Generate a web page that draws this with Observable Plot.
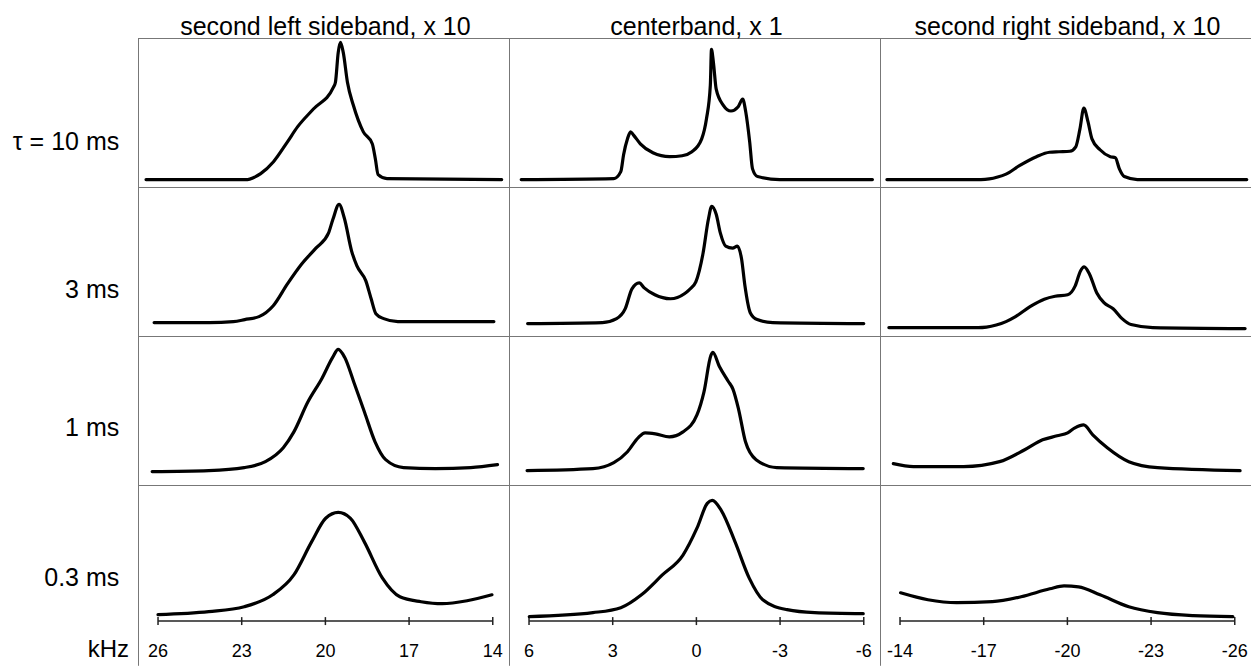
<!DOCTYPE html>
<html><head><meta charset="utf-8">
<script src="https://cdn.jsdelivr.net/npm/d3@7"></script>
<script src="https://cdn.jsdelivr.net/npm/@observablehq/plot@0.6"></script>
<style>html,body{margin:0;padding:0;background:#fff;}</style>
</head><body><div id="chart"></div>
<script>
// ---- categories / labels ----
const columns = ["left", "center", "right"];
const columnTitles = ["second left sideband, x 10", "centerband, x 1", "second right sideband, x 10"];
const columnCenters = [20, 0, -20];           // kHz at the middle of each column
const rows = ["10", "3", "1", "0.3"];
const rowLabels = ["τ = 10 ms", "3 ms", "1 ms", "0.3 ms"];
const rowLabelLevel = [46, 47, 58, 56.5];
const tickOffsets = [6, 3, 0, -3, -6];
const tickLabels = [[26, 23, 20, 17, 14], [6, 3, 0, -3, -6], [-14, -17, -20, -23, -26]];
const unitLabel = "kHz";

// ---- spectra: [frequency kHz, intensity a.u.] ----
const left10 = [[26.43,8],[22.79,8],[22.57,10],[22.32,14],[21.86,26],[21.36,46],[21.0,61],[20.43,79],[19.71,101],[19.64,106],[19.54,136],[19.46,146],[19.36,136],[19.21,106],[19.0,83],[18.64,56],[18.32,44],[18.21,29],[18.11,13],[17.79,9],[13.68,8]];
const center10 = [[6.28,8],[2.96,9],[2.71,16],[2.61,33],[2.47,49],[2.36,56],[2.26,53],[2.01,44],[1.56,35],[0.96,31],[0.51,32],[0.16,36],[-0.19,49],[-0.36,69],[-0.50,103],[-0.54,139],[-0.61,126],[-0.71,99],[-0.96,83],[-1.24,77],[-1.49,81],[-1.66,89],[-1.77,76],[-1.91,46],[-2.01,19],[-2.19,11],[-2.99,8],[-6.31,8]];
const right10 = [[-13.53,8],[-16.9,8],[-17.2,8.6],[-17.5,10.5],[-17.8,13.5],[-18.28,22],[-18.89,31],[-19.36,35.5],[-19.7,36],[-20.09,36.5],[-20.3,41],[-20.45,59],[-20.59,80],[-20.74,66],[-20.88,49],[-21.17,38],[-21.54,31],[-21.72,30],[-21.86,19],[-22.04,11],[-22.51,8],[-26.43,8]];

const left3 = [[26.14,14],[24.16,14],[23.3,15],[22.89,17],[22.38,20],[21.87,31],[21.36,53],[20.85,73],[20.34,89],[19.89,104],[19.73,118],[19.51,133],[19.32,119],[19.06,86],[18.87,71],[18.55,56],[18.36,38],[18.19,23],[17.91,18],[17.40,15],[13.96,15]];
const center3 = [[6.05,13],[3.37,14],[2.86,18],[2.55,28],[2.31,48],[2.05,54],[1.87,49],[1.49,42],[0.93,38],[0.43,43],[0.26,47],[0.02,55],[-0.24,84],[-0.43,118],[-0.55,131],[-0.71,123],[-0.86,104],[-1.05,91],[-1.30,89],[-1.47,91],[-1.62,78],[-1.74,51],[-1.93,24],[-2.18,17],[-2.74,14],[-6.0,13]];
const right3 = [[-13.60,9],[-16.8,9],[-17.1,9.5],[-17.45,11.5],[-17.8,15],[-18.14,20],[-18.66,30],[-19.17,37.5],[-19.56,40.5],[-20.01,42],[-20.28,51],[-20.47,66],[-20.60,70],[-20.79,63],[-21.05,44],[-21.31,34],[-21.64,28],[-21.96,18],[-22.28,12],[-23.06,9],[-26.37,8]];

const left1 = [[26.21,14],[24.18,15],[22.91,18],[22.15,24],[21.51,38],[21.13,54],[20.63,84],[20.12,108],[19.74,129],[19.54,137],[19.31,129],[18.98,104],[18.60,74],[18.22,44],[17.84,26],[17.20,18],[16.06,17],[14.79,18],[13.83,21]];
const center1 = [[6.07,15],[3.71,17],[2.96,23],[2.47,34],[2.09,48],[1.84,53],[1.47,52],[0.97,49],[0.48,54],[-0.02,71],[-0.27,94],[-0.52,131],[-0.59,134],[-0.82,120],[-1.14,105],[-1.31,97],[-1.51,77],[-1.76,44],[-2.14,26],[-2.88,18],[-5.98,17]];
const right1 = [[-13.76,22],[-14.48,19],[-16.28,19],[-17.57,24],[-18.47,36],[-19.11,46],[-19.63,50],[-20.01,53],[-20.27,58],[-20.58,61],[-20.91,51],[-21.43,38],[-22.20,24],[-23.23,18],[-26.19,15]];

const left03 = [[26.0,20],[24.18,23],[22.91,28],[21.89,40],[21.13,60],[20.5,93],[19.99,117],[19.54,123],[19.10,117],[18.60,93],[17.96,57],[17.33,38],[16.57,33],[15.81,31],[14.92,34],[14.03,40]];
const center03 = [[5.99,18],[3.71,22],[2.71,27],[1.97,40],[1.22,60],[0.48,80],[-0.02,107],[-0.39,132],[-0.57,135],[-0.89,125],[-1.39,93],[-1.89,57],[-2.38,35],[-3.25,25],[-4.24,22],[-5.98,21]];
const right03 = [[-14.02,42],[-15.0,35],[-16.03,32],[-17.31,33],[-18.34,38],[-19.37,46],[-19.88,49],[-20.40,48],[-21.17,40],[-22.20,28],[-23.23,22],[-24.51,19],[-25.93,18]];

// ---- tables for the library ----
const panels = [
  [left10, 0, 0], [center10, 1, 0], [right10, 2, 0],
  [left3, 0, 1], [center3, 1, 1], [right3, 2, 1],
  [left1, 0, 2], [center1, 1, 2], [right1, 2, 2],
  [left03, 0, 3], [center03, 1, 3], [right03, 2, 3]
];
const bottomRow = rows[rows.length - 1];
const topRow = rows[0];
const lineData = panels.flatMap(([arr, c, r]) =>
  arr.map(([f, v]) => ({col: columns[c], row: rows[r], key: columns[c] + rows[r], u: f - columnCenters[c], v})));
const cells = columns.flatMap(col => rows.map(row => ({col, row})));
const axisRows = columns.map(col => ({col, row: bottomRow, a: tickOffsets[0], b: tickOffsets[tickOffsets.length - 1]}));
const ticks = columns.flatMap((col, c) => tickOffsets.map((u, i) => ({col, row: bottomRow, u, label: String(tickLabels[c][i])})));
const titles = columns.map((col, c) => ({col, row: topRow, text: columnTitles[c]}));
const rowText = rows.map((row, r) => ({col: columns[0], row, text: rowLabels[r], v: rowLabelLevel[r]}));
const unitText = [{col: columns[0], row: bottomRow, text: unitLabel}];

const XL = 6.7, XR = -6.6;
const AX = 13.5;
const chart = Plot.plot({
  width: 1251, height: 666,
  marginLeft: 137, marginRight: 0, marginTop: 37, marginBottom: 32,
  style: {fontFamily: "'Liberation Sans', Arial, sans-serif", background: "#fff", color: "#000", overflow: "visible"},
  fx: {domain: columns, padding: 0, axis: null},
  fy: {domain: rows, padding: 0, axis: null},
  x: {domain: [XL, XR], axis: null},
  y: {domain: [0, 150], axis: null},
  marks: [
    Plot.ruleY(cells, {fx: "col", fy: "row", y: 150, x1: XL, x2: XR, stroke: "#777", strokeWidth: 1}),
    Plot.ruleX(cells, {fx: "col", fy: "row", x: XL, y1: d => d.row === bottomRow ? -32 : 0, y2: 150, stroke: "#777", strokeWidth: 1}),
    Plot.link(axisRows, {fx: "col", fy: "row", x1: "a", x2: "b", y1: d => AX, y2: d => AX, stroke: "#222", strokeWidth: 1.5}),
    Plot.link(ticks, {fx: "col", fy: "row", x1: "u", x2: "u", y1: d => AX - 4, y2: d => AX + 4, stroke: "#222", strokeWidth: 1.5}),
    Plot.text(ticks, {fx: "col", fy: "row", x: "u", y: -17, text: "label", fontSize: 18, fill: "#000"}),
    Plot.line(lineData, {fx: "col", fy: "row", x: "u", y: "v", z: "key", curve: "monotone-x", stroke: "#000", strokeWidth: 3.2, strokeLinejoin: "round", strokeLinecap: "round"}),
    Plot.text(rowText, {fx: "col", fy: "row", x: 7.39, y: "v", text: "text", textAnchor: "end", fontSize: 25, fill: "#000"}),
    Plot.text(titles, {fx: "col", fy: "row", x: 0, y: 162, text: "text", fontSize: 25, fill: "#000"}),
    Plot.text(unitText, {fx: "col", fy: "row", x: 7.04, y: -15.3, text: "text", textAnchor: "end", fontSize: 24, fill: "#000"})
  ]
});
document.getElementById("chart").appendChild(chart);
</script>
</body></html>
